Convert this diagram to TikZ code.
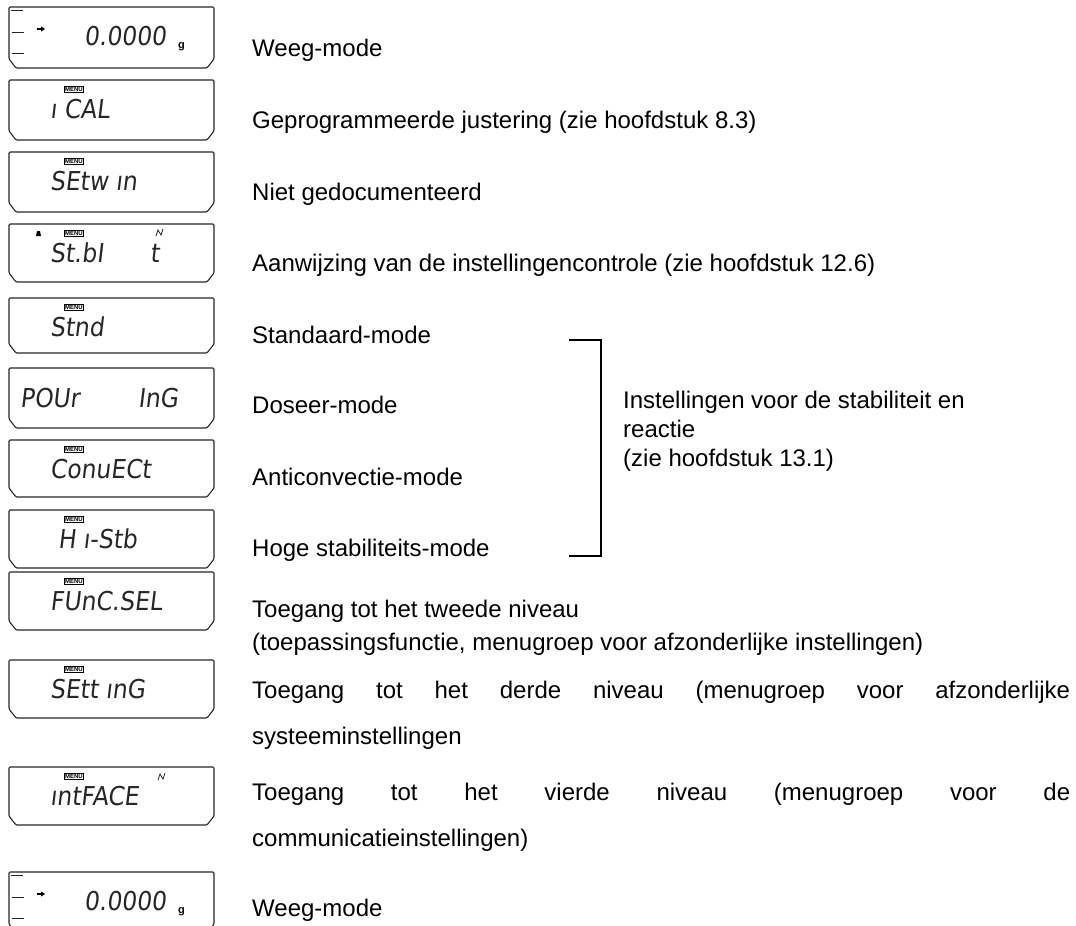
\documentclass[tikz,border=0pt]{standalone}
\usepackage{fontspec}
\setmainfont{Liberation Sans}
\newfontfamily\lcdfont[FakeSlant=0.12,FakeStretch=0.9]{DejaVu Sans}
\newfontfamily\tagfont{Liberation Sans}
\usetikzlibrary{arrows.meta}
\tikzset{
  lcdframe/.style={draw=black!85, line width=1.1pt, rounded corners=1.2pt},
  lcdtext/.style={anchor=base west, inner sep=0pt, font=\lcdfont\fontsize{26}{26}\selectfont, text=black!85},
  unit/.style={anchor=base west, inner sep=0pt, font=\tagfont\bfseries\fontsize{11}{11}\selectfont},
  menutag/.style={draw, line width=0.5pt, inner sep=0.7pt, font=\tagfont\bfseries\fontsize{6}{6}\selectfont},
  lbl/.style={anchor=base west, inner sep=0pt, font=\fontsize{24}{28}\selectfont},
  seg/.style={line width=0.8pt, black!85},
  bracketline/.style={draw, line width=1.1pt}
}
\newcommand\lcdframebox[2]{\draw[lcdframe] (9,#1) -- (214,#1) -- (214,{#2-9}) -- (207,#2) -- (16,#2) -- (9,{#2-9}) -- cycle;}
\newcommand\weighdisplay[2]{%
  \pgfmathsetmacro\wdbottom{#1+61}
  \lcdframebox{#1}{\wdbottom}
  \draw[seg] (11,{#1+3}) -- (23,{#1+3});
  \draw[seg] (12,{#1+25}) -- (24,{#1+25});
  \draw[seg] (12,{#1+46}) -- (24,{#1+46});
  \draw[-{Triangle[length=4pt,width=5pt]}, line width=1.3pt] (37,{#1+22}) -- (45,{#1+22});
  \node[lcdtext] (#2num) at (84,{#1+38}) {0.0000};
  \node[unit] (#2unit) at (178,{#1+41}) {g};
}
\begin{document}
\begin{tikzpicture}[x=1pt,y=-1pt]
\useasboundingbox (0,0) rectangle (1076,926);
% box 1
\weighdisplay{7}{wa}
% box 2
\lcdframebox{80}{140}
\node[menutag] (m2) at (74,89) {MENU};
\node[lcdtext] (d2) at (50,118) {ı CAL};
% box 3
\lcdframebox{152}{212}
\node[menutag] (m3) at (74,161) {MENU};
\node[lcdtext] (d3) at (50,190) {SEtw ın};
% box 4
\lcdframebox{224}{282}
\fill (36,236) -- (41,236) -- (40,231) -- (37,231) -- cycle;
\node[menutag] (m4) at (74,233) {MENU};
\node[lcdtext] (d4) at (50,262) {St.bI};
\node[lcdtext] (d4b) at (150,262) {t};
\draw[seg] (156,236) -- (158,230) -- (161,235) -- (163,229);
% box 5
\lcdframebox{298}{353}
\node[menutag] (m5) at (74,307) {MENU};
\node[lcdtext] (d5) at (50,336) {Stnd};
% box 6
\lcdframebox{368}{428}
\node[lcdtext] (d6) at (20,407) {POUr};
\node[lcdtext] (d6b) at (138,407) {InG};
% box 7
\lcdframebox{440}{497}
\node[menutag] (m7) at (74,449) {MENU};
\node[lcdtext] (d7) at (50,478) {ConuECt};
% box 8
\lcdframebox{510}{568}
\node[menutag] (m8) at (74,519) {MENU};
\node[lcdtext] (d8) at (58,548) {H ı-Stb};
% box 9
\lcdframebox{572}{630}
\node[menutag] (m9) at (74,581) {MENU};
\node[lcdtext] (d9) at (50,610) {FUnC.SEL};
% box 10
\lcdframebox{660}{718}
\node[menutag] (m10) at (74,669) {MENU};
\node[lcdtext] (d10) at (50,698) {SEtt ınG};
% box 11
\lcdframebox{767}{825}
\node[menutag] (m11) at (74,776) {MENU};
\node[lcdtext] (d11) at (50,805) {ıntFACE};
\draw[seg] (158,780) -- (160,774) -- (163,779) -- (165,773);
% box 12
\weighdisplay{872}{wb}

% labels
\node[lbl] (t1) at (252,56) {Weeg-mode};
\node[lbl] (t2) at (252,128) {Geprogrammeerde justering (zie hoofdstuk 8.3)};
\node[lbl] (t3) at (252,200) {Niet gedocumenteerd};
\node[lbl] (t4) at (252,271) {Aanwijzing van de instellingencontrole (zie hoofdstuk 12.6)};
\node[lbl] (t5) at (252,343) {Standaard-mode};
\node[lbl] (t6) at (252,413) {Doseer-mode};
\node[lbl] (t7) at (252,485) {Anticonvectie-mode};
\node[lbl] (t8) at (252,556) {Hoge stabiliteits-mode};
\node[lbl] (t9a) at (252,617) {Toegang tot het tweede niveau};
\node[lbl] (t9b) at (252,650) {(toepassingsfunctie, menugroep voor afzonderlijke instellingen)};
\node[lbl] (t10a) at (252,698) {\makebox[818pt][s]{Toegang tot het derde niveau (menugroep voor afzonderlijke}};
\node[lbl] (t10b) at (252,744) {systeeminstellingen};
\node[lbl] (t11a) at (252,800) {\makebox[818pt][s]{Toegang tot het vierde niveau (menugroep voor de}};
\node[lbl] (t11b) at (252,846) {communicatieinstellingen)};
\node[lbl] (t12) at (252,916) {Weeg-mode};

% bracket
\coordinate (bt) at (569,340);
\coordinate (bb) at (569,556);
\coordinate (btr) at (601,340);
\coordinate (bbr) at (601,556);
\draw[bracketline] (bt) -- (btr) -- (bbr) -- (bb);
\node[anchor=north west, inner sep=0pt, align=left, font=\fontsize{24}{29}\selectfont] (grp) at (623,391)
  {Instellingen voor de stabiliteit en\\reactie\\(zie hoofdstuk 13.1)};
\end{tikzpicture}
\end{document}
